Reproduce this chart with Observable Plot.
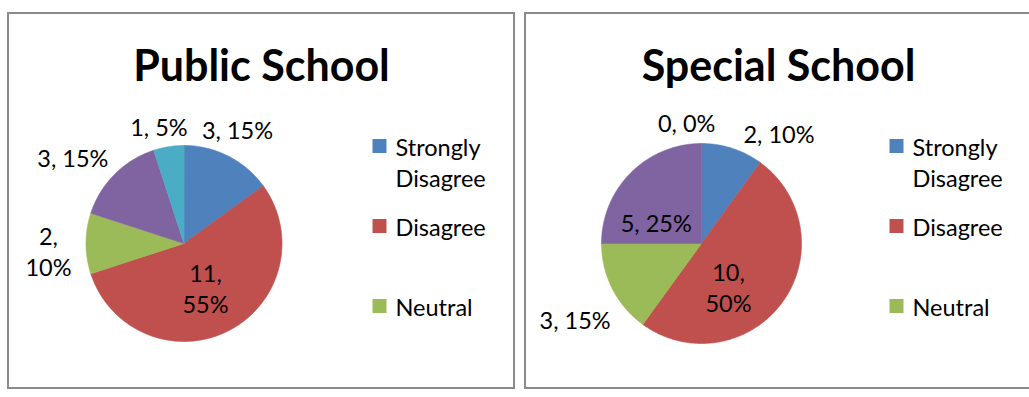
<!DOCTYPE html>
<html><head><meta charset="utf-8">
<script src="https://cdn.jsdelivr.net/npm/d3@7"></script>
<script src="https://cdn.jsdelivr.net/npm/@observablehq/plot@0.6"></script>
<style>
html,body{margin:0;padding:0;background:#fff;}
body{width:1029px;height:397px;overflow:hidden;position:relative;font-family:Lato,sans-serif;}
.panel{position:absolute;top:12px;width:504px;height:373px;border:2px solid #8a8a8a;background:#fff;}
.panel svg{display:block;}
</style></head><body>
<div id="p1" class="panel" style="left:7px"></div>
<div id="p2" class="panel" style="left:524px"></div>
<script>
// ---- data ----
const categories = ["Strongly Disagree", "Disagree", "Neutral", "Agree", "Strongly Agree"];
const legendLabels = ["Strongly\nDisagree", "Disagree", "Neutral"]; // entries visible in the legend box
const colors = ["#4F81BD", "#C0504D", "#9BBB59", "#8064A2", "#4BACC6"];
const titles = ["Public School", "Special School"];
const publicValues = [3, 11, 2, 3, 1];
const specialValues = [2, 10, 3, 5, 0];

// ---- layout (not data) ----
const W = 504, H = 373;
const panels = [
  {el: "#p1", title: titles[0], values: publicValues, cx: 174.5, cy: 229, R: 98,
   labelPolar: [[25, 1.29], [154, 0.50], [267, 1.385], [308, 1.44], [348, 1.23]],
   wrap: [false, true, true, false, false]},
  {el: "#p2", title: titles[1], values: specialValues, cx: 175, cy: 229, R: 100,
   labelPolar: [[35, 1.35], [148, 0.51], [239, 1.475], [295, 0.50], [353, 1.22]],
   wrap: [false, true, false, false, false]}
];

function draw(p) {
  const {cx, cy, R} = p;
  const X = px => (px - cx) / R;
  const Y = py => (cy - py) / R;
  const total = d3.sum(p.values);
  const arcs = d3.pie().sort(null).value(d => d)(p.values);

  // slice outlines
  const pts = [];
  arcs.forEach((a, i) => {
    const span = a.endAngle - a.startAngle;
    if (span <= 0) return;
    const cat = categories[i];
    pts.push({cat, x: 0, y: 0});
    const n = Math.max(2, Math.ceil(span / (Math.PI / 180)));
    for (let k = 0; k <= n; k++) {
      const t = a.startAngle + span * k / n;
      pts.push({cat, x: Math.sin(t), y: Math.cos(t)});
    }
  });

  // data labels
  const labels = arcs.map((a, i) => {
    const v = p.values[i];
    const pct = Math.round(v / total * 100);
    const [ang, rad] = p.labelPolar[i];
    const t = ang * Math.PI / 180;
    return {text: p.wrap[i] ? `${v},\n${pct}%` : `${v}, ${pct}%`, x: rad * Math.sin(t), y: rad * Math.cos(t)};
  });

  // legend rows
  const legendRows = legendLabels.map((lab, i) => {
    const rowY = 131.5 + 80 * i;
    const nLines = lab.split("\n").length;
    return {cat: categories[i], label: lab, sy: Y(rowY), ty: Y(rowY + (nLines - 1) * 31 / 2)};
  });

  const chart = Plot.plot({
    width: W, height: H, margin: 0,
    x: {domain: [X(0), X(W)], range: [0, W], axis: null},
    y: {domain: [Y(H), Y(0)], range: [H, 0], axis: null},
    color: {domain: categories, range: colors},
    style: {fontFamily: "Lato, sans-serif", background: "transparent", color: "#000"},
    marks: [
      Plot.line(pts, {x: "x", y: "y", z: "cat", fill: "cat", stroke: "cat", strokeWidth: 0.6, curve: "linear-closed"}),
      Plot.text(labels, {x: "x", y: "y", text: "text", fontSize: 23.5, lineHeight: 1.33, textAnchor: "middle", lineAnchor: "middle", fill: "#000"}),
      Plot.text([p.title], {text: d => d, frameAnchor: "top", lineAnchor: "top", dy: 36, fontSize: 43, fontWeight: "bold", fill: "#000"}),
      Plot.dot(legendRows, {x: () => X(370), y: "sy", symbol: "square", r: 7.9, fill: "cat", stroke: "none"}),
      Plot.text(legendRows, {x: () => X(386), y: "ty", text: "label", textAnchor: "start", lineAnchor: "middle", fontSize: 23.5, lineHeight: 31 / 23.5, fill: "#000"})
    ]
  });
  document.querySelector(p.el).appendChild(chart);
}
panels.forEach(draw);
</script>
</body></html>
